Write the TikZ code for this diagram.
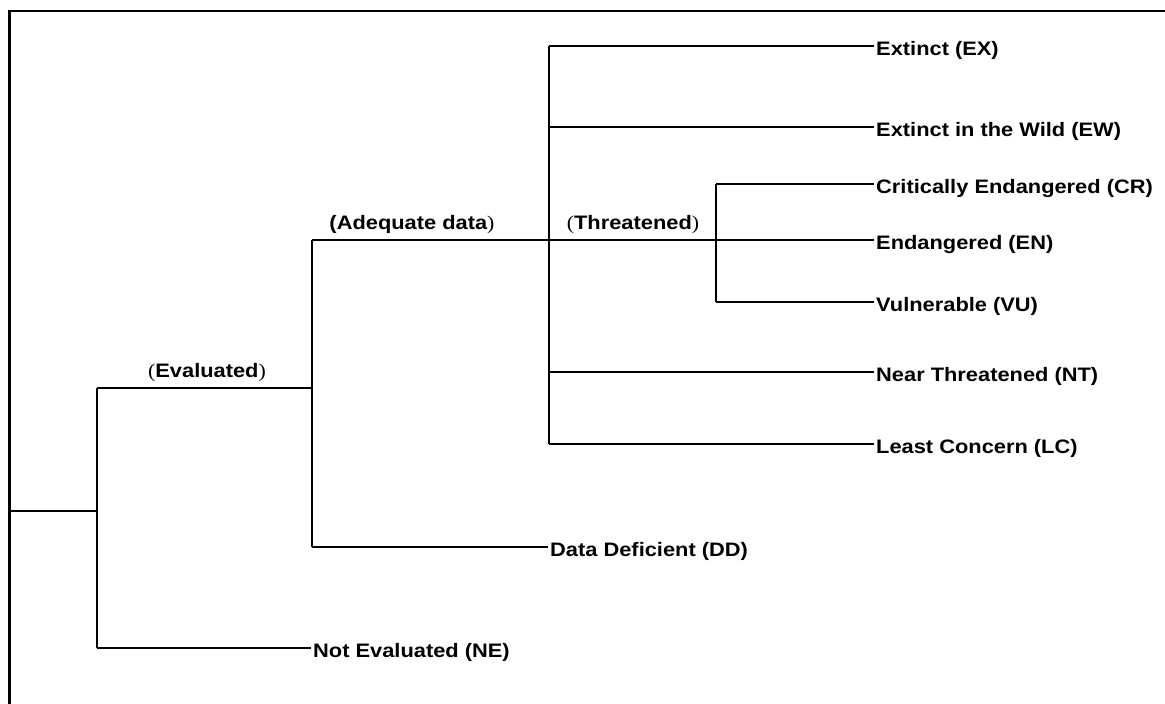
\documentclass[tikz,border=0pt]{standalone}
\usepackage{fontspec}
\usepackage{tikz}
\newfontfamily\treefont[FakeStretch=1.12]{Liberation Sans}
\newfontfamily\parenfont[FakeStretch=1.12]{Liberation Serif}
\newcommand{\tp}[1]{{\parenfont\mdseries #1}}

\tikzset{
    branch/.style = {line width=1.2pt},
    leaf/.style = {anchor=west, inner xsep=2pt, inner ysep=0pt, text height=18pt, text depth=0pt,
        font=\treefont\fontsize{19.5}{22}\selectfont\bfseries},
    group/.style = {anchor=base, inner sep=0pt, font=\treefont\fontsize{19.5}{22}\selectfont\bfseries}
}

\begin{document}
\begin{tikzpicture}[x=1pt, y=-1pt]
    \clip (0,0) rectangle (1165,704);
    \draw[line width=2.5pt] (9.3,720) -- (9.3,11) -- (1180,11);

    \coordinate (root) at (9.3,511);
    \coordinate (evtop) at (97,388);
    \coordinate (evbot) at (97,648);
    \coordinate (adtop) at (312,240);
    \coordinate (admid) at (312,388);
    \coordinate (adbot) at (312,547);
    \coordinate (thtop) at (549,46);
    \coordinate (thbot) at (549,444);
    \coordinate (crtop) at (716,184);
    \coordinate (crbot) at (716,302);

    \node[leaf] (EX) at (874,46) {Extinct (EX)};
    \node[leaf] (EW) at (874,127) {Extinct in the Wild (EW)};
    \node[leaf] (CR) at (874,184) {Critically Endangered (CR)};
    \node[leaf] (EN) at (874,240) {Endangered (EN)};
    \node[leaf] (VU) at (874,302) {Vulnerable (VU)};
    \node[leaf] (NT) at (874,372) {Near Threatened (NT)};
    \node[leaf] (LC) at (874,444) {Least Concern (LC)};
    \node[leaf] (DD) at (548,547) {Data Deficient (DD)};
    \node[leaf] (NE) at (311,648) {Not Evaluated (NE)};

    \node[group] (evaluated) at (207,377) {\tp{(}Evaluated\tp{)}};
    \node[group] (adequate) at (412,229) {(Adequate data\tp{)}};
    \node[group] (threatened) at (633,229) {\tp{(}Threatened\tp{)}};

    \draw[branch] (root) -- (root -| evtop);
    \draw[branch] (evtop) -- (evbot);
    \draw[branch] (evtop) -- (admid);
    \draw[branch] (evbot) -- (NE.west);
    \draw[branch] (adtop) -- (adbot);
    \draw[branch] (adbot) -- (DD.west);
    \draw[branch] (adtop) -- (EN.west);
    \draw[branch] (thtop) -- (thbot);
    \draw[branch] (thtop) -- (EX.west);
    \draw[branch] (thtop |- EW.west) -- (EW.west);
    \draw[branch] (thtop |- NT.west) -- (NT.west);
    \draw[branch] (thbot) -- (LC.west);
    \draw[branch] (crtop) -- (crbot);
    \draw[branch] (crtop) -- (CR.west);
    \draw[branch] (crbot) -- (VU.west);
\end{tikzpicture}
\end{document}
